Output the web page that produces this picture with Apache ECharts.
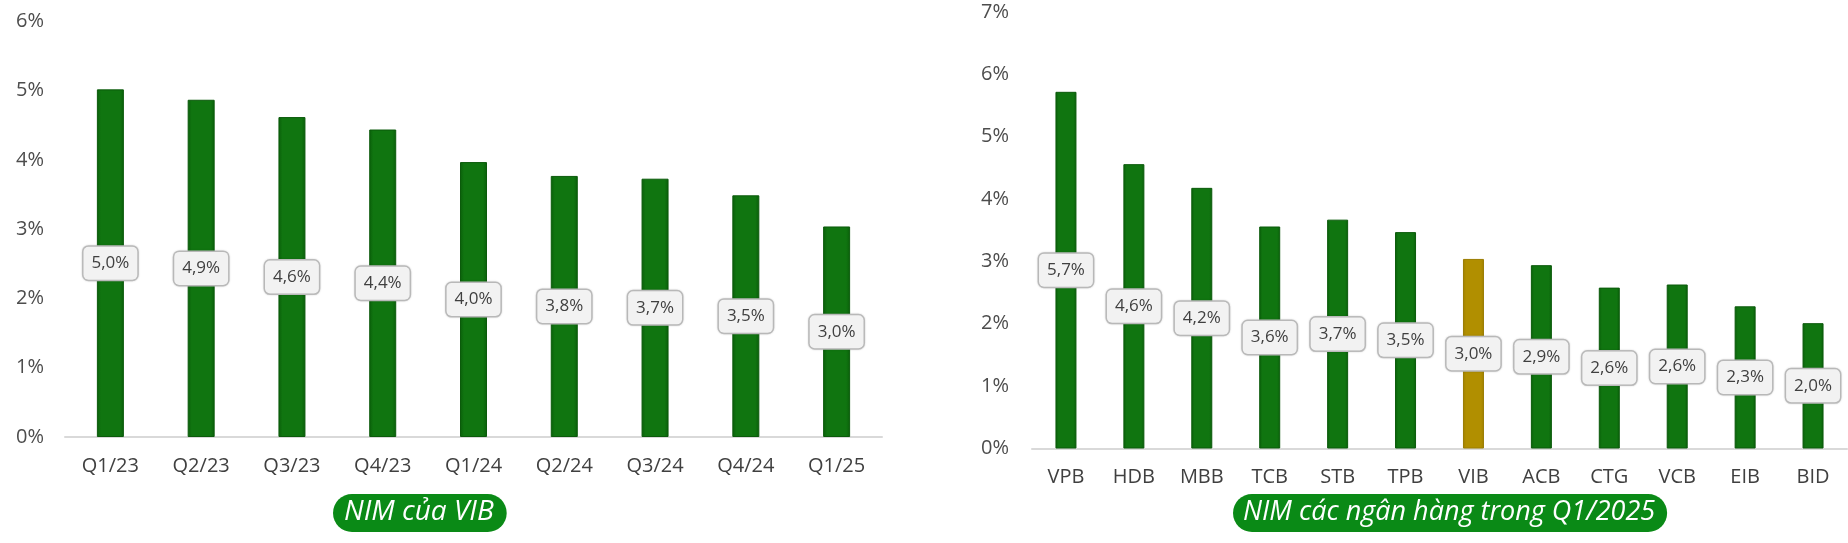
<!DOCTYPE html>
<html>
<head>
<meta charset="utf-8">
<script src="https://cdn.jsdelivr.net/npm/echarts@6/dist/echarts.min.js"></script>
<style>
html,body{margin:0;padding:0;background:#fff;}
#c{width:1848px;height:543px;}
</style>
</head>
<body>
<div id="c"></div>
<script>
// ---- data ----
const vibQuarters = ['Q1/23','Q2/23','Q3/23','Q4/23','Q1/24','Q2/24','Q3/24','Q4/24','Q1/25'];
const vibNim = [5.02, 4.87, 4.62, 4.44, 3.97, 3.77, 3.73, 3.49, 3.04];
const banks = ['VPB','HDB','MBB','TCB','STB','TPB','VIB','ACB','CTG','VCB','EIB','BID'];
const bankNim = [5.72, 4.56, 4.18, 3.56, 3.67, 3.47, 3.04, 2.94, 2.58, 2.63, 2.28, 2.01];
const leftTicks = [0,1,2,3,4,5,6];
const rightTicks = [0,1,2,3,4,5,6,7];
const leftCaption = 'NIM của VIB';
const rightCaption = 'NIM các ngân hàng trong Q1/2025';
const highlightBank = 'VIB';

const FONT = '"Open Sans", "Noto Sans", sans-serif';
const GREEN = new echarts.graphic.LinearGradient(0,0,1,0,[
  {offset:0,color:'#0a5f0a'},{offset:0.15,color:'#107510'},
  {offset:0.85,color:'#107510'},{offset:1,color:'#0a5f0a'}]);
const GOLD = new echarts.graphic.LinearGradient(0,0,1,0,[
  {offset:0,color:'#a08000'},{offset:0.15,color:'#b18f00'},
  {offset:0.85,color:'#b18f00'},{offset:1,color:'#a08000'}]);

const fmt = v => v.toFixed(1).replace('.', ',') + '%';
const dataLabel = {
  show:true, position:'inside',
  formatter: p => fmt(p.value),
  fontFamily: FONT, fontSize:17, color:'#404040',
  backgroundColor:'#f2f2f2', borderColor:'#bfbfbf', borderWidth:1.5, borderRadius:5,
  padding:[7,8,7,8], lineHeight:19,
  shadowColor:'rgba(0,0,0,0.15)', shadowBlur:2
};
function yAxis(idx, max, margin){
  return {
    type:'value', gridIndex:idx, min:0, max:max, interval:1,
    axisLine:{show:false}, axisTick:{show:false}, splitLine:{show:false},
    axisLabel:{formatter: v => v + '%', fontFamily:FONT, fontSize:20, color:'#4d4d4d', margin:margin}
  };
}
function xAxis(idx, cats){
  return {
    type:'category', gridIndex:idx, data:cats,
    axisLine:{show:true, lineStyle:{color:'#d9d9d9', width:2}},
    axisTick:{show:false},
    axisLabel:{fontFamily:FONT, fontSize:20, color:'#404040', margin:19}
  };
}
const captionStyle = (size) => ({color:'#ffffff', fontStyle:'italic', fontWeight:'normal', fontFamily:FONT, fontSize:size, lineHeight:29});

const option = {
  animation:false,
  backgroundColor:'#ffffff',
  title:[
    {text:leftCaption, left:333, top:494, backgroundColor:'#0a8a16', borderRadius:19, padding:[4,13,5,11], textStyle:captionStyle(28)},
    {text:rightCaption, left:1233, top:494, backgroundColor:'#0a8a16', borderRadius:19, padding:[4,12,5,10], textStyle:captionStyle(27)}
  ],
  grid:[
    {left:65, right:966, top:21.5, bottom:106},
    {left:1032, right:1, top:12, bottom:94.5}
  ],
  xAxis:[xAxis(0, vibQuarters), xAxis(1, banks)],
  yAxis:[yAxis(0, 6, 21), yAxis(1, 7, 23)],
  series:[
    {type:'bar', xAxisIndex:0, yAxisIndex:0, barWidth:27,
     data: vibNim.map(v => ({value:v})),
     itemStyle:{color:GREEN, borderColor:'#0b5a0b', borderWidth:1},
     label:dataLabel},
    {type:'bar', xAxisIndex:1, yAxisIndex:1, barWidth:21,
     data: bankNim.map((v,i) => ({value:v, itemStyle:{color: banks[i]===highlightBank ? GOLD : GREEN, borderColor: banks[i]===highlightBank ? '#9a7c00' : '#0b5a0b'}})),
     itemStyle:{borderWidth:1},
     label:dataLabel}
  ]
};
const chart = echarts.init(document.getElementById('c'), null, {renderer:'canvas'});
chart.setOption(option);
</script>
</body>
</html>
